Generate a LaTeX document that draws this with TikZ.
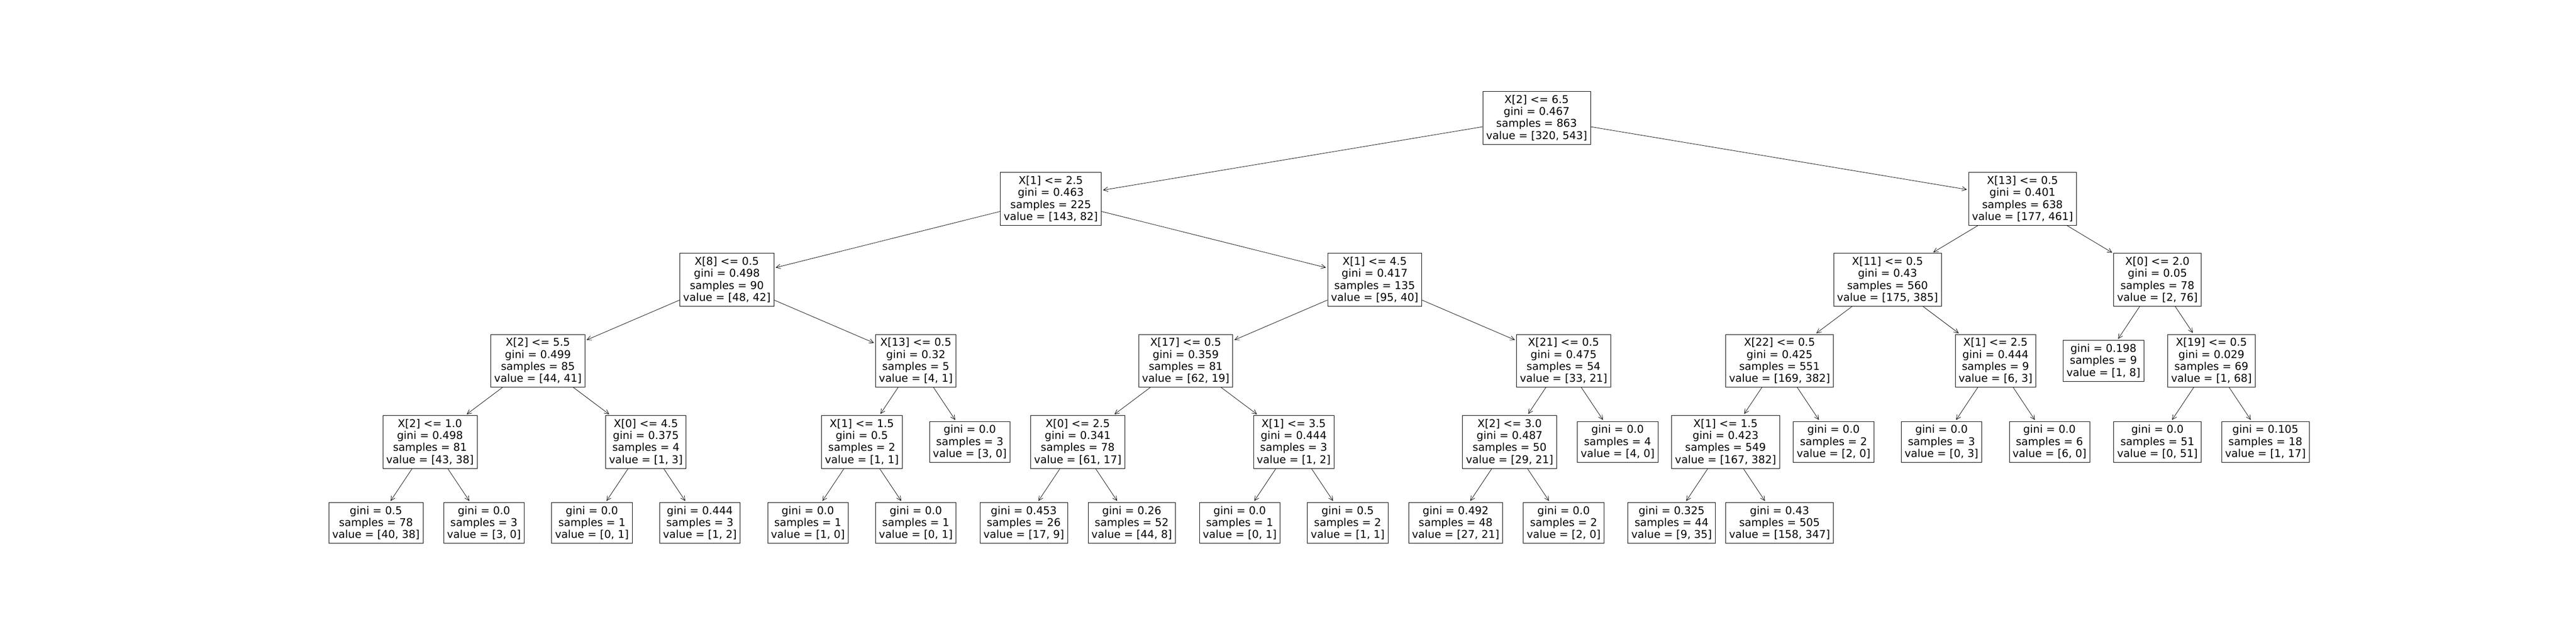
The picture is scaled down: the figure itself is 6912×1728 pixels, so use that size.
\documentclass[tikz,border=0pt]{standalone}
\usepackage{fontspec}
\setmainfont{DejaVu Sans}
\usetikzlibrary{arrows.meta}
\tikzset{
  tn/.style={draw, line width=0.3pt, fill=white, align=center,
    inner xsep=2.55pt, inner ysep=2.8pt,
    font=\fontsize{8.17pt}{9.16pt}\selectfont},
  edge/.style={line width=0.3pt, -{Straight Barb[length=3.4pt,width=3.4pt]}, shorten >=1.2pt}
}
\newcommand\tnode[4]{\node[tn] (#1) at ({1008.8+289.7*#2},{316+217.4*#3}) {#4};}
\begin{document}
\begin{tikzpicture}[x=0.01cm,y=-0.01cm]
\useasboundingbox (0,0) rectangle (6912,1728);
\tnode{n0}{10.75}{0}{X[2] <= 6.5\\gini = 0.467\\samples = 863\\value = [320, 543]}
\tnode{n1}{6.25}{1}{X[1] <= 2.5\\gini = 0.463\\samples = 225\\value = [143, 82]}
\tnode{n2}{15.25}{1}{X[13] <= 0.5\\gini = 0.401\\samples = 638\\value = [177, 461]}
\tnode{n3}{3.25}{2}{X[8] <= 0.5\\gini = 0.498\\samples = 90\\value = [48, 42]}
\tnode{n4}{9.25}{2}{X[1] <= 4.5\\gini = 0.417\\samples = 135\\value = [95, 40]}
\tnode{n5}{14}{2}{X[11] <= 0.5\\gini = 0.43\\samples = 560\\value = [175, 385]}
\tnode{n6}{16.5}{2}{X[0] <= 2.0\\gini = 0.05\\samples = 78\\value = [2, 76]}
\tnode{n7}{1.5}{3}{X[2] <= 5.5\\gini = 0.499\\samples = 85\\value = [44, 41]}
\tnode{n8}{5}{3}{X[13] <= 0.5\\gini = 0.32\\samples = 5\\value = [4, 1]}
\tnode{n9}{7.5}{3}{X[17] <= 0.5\\gini = 0.359\\samples = 81\\value = [62, 19]}
\tnode{n10}{11}{3}{X[21] <= 0.5\\gini = 0.475\\samples = 54\\value = [33, 21]}
\tnode{n11}{13}{3}{X[22] <= 0.5\\gini = 0.425\\samples = 551\\value = [169, 382]}
\tnode{n12}{15}{3}{X[1] <= 2.5\\gini = 0.444\\samples = 9\\value = [6, 3]}
\tnode{n13}{16}{3}{gini = 0.198\\samples = 9\\value = [1, 8]}
\tnode{n14}{17}{3}{X[19] <= 0.5\\gini = 0.029\\samples = 69\\value = [1, 68]}
\tnode{n15}{0.5}{4}{X[2] <= 1.0\\gini = 0.498\\samples = 81\\value = [43, 38]}
\tnode{n16}{2.5}{4}{X[0] <= 4.5\\gini = 0.375\\samples = 4\\value = [1, 3]}
\tnode{n17}{4.5}{4}{X[1] <= 1.5\\gini = 0.5\\samples = 2\\value = [1, 1]}
\tnode{n18}{5.5}{4}{gini = 0.0\\samples = 3\\value = [3, 0]}
\tnode{n19}{6.5}{4}{X[0] <= 2.5\\gini = 0.341\\samples = 78\\value = [61, 17]}
\tnode{n20}{8.5}{4}{X[1] <= 3.5\\gini = 0.444\\samples = 3\\value = [1, 2]}
\tnode{n21}{10.5}{4}{X[2] <= 3.0\\gini = 0.487\\samples = 50\\value = [29, 21]}
\tnode{n22}{11.5}{4}{gini = 0.0\\samples = 4\\value = [4, 0]}
\tnode{n23}{12.5}{4}{X[1] <= 1.5\\gini = 0.423\\samples = 549\\value = [167, 382]}
\tnode{n24}{13.5}{4}{gini = 0.0\\samples = 2\\value = [2, 0]}
\tnode{n25}{14.5}{4}{gini = 0.0\\samples = 3\\value = [0, 3]}
\tnode{n26}{15.5}{4}{gini = 0.0\\samples = 6\\value = [6, 0]}
\tnode{n27}{16.5}{4}{gini = 0.0\\samples = 51\\value = [0, 51]}
\tnode{n28}{17.5}{4}{gini = 0.105\\samples = 18\\value = [1, 17]}
\tnode{n29}{0}{5}{gini = 0.5\\samples = 78\\value = [40, 38]}
\tnode{n30}{1}{5}{gini = 0.0\\samples = 3\\value = [3, 0]}
\tnode{n31}{2}{5}{gini = 0.0\\samples = 1\\value = [0, 1]}
\tnode{n32}{3}{5}{gini = 0.444\\samples = 3\\value = [1, 2]}
\tnode{n33}{4}{5}{gini = 0.0\\samples = 1\\value = [1, 0]}
\tnode{n34}{5}{5}{gini = 0.0\\samples = 1\\value = [0, 1]}
\tnode{n35}{6}{5}{gini = 0.453\\samples = 26\\value = [17, 9]}
\tnode{n36}{7}{5}{gini = 0.26\\samples = 52\\value = [44, 8]}
\tnode{n37}{8}{5}{gini = 0.0\\samples = 1\\value = [0, 1]}
\tnode{n38}{9}{5}{gini = 0.5\\samples = 2\\value = [1, 1]}
\tnode{n39}{10}{5}{gini = 0.492\\samples = 48\\value = [27, 21]}
\tnode{n40}{11}{5}{gini = 0.0\\samples = 2\\value = [2, 0]}
\tnode{n41}{12}{5}{gini = 0.325\\samples = 44\\value = [9, 35]}
\tnode{n42}{13}{5}{gini = 0.43\\samples = 505\\value = [158, 347]}
\foreach \p/\c in {n0/n1,n0/n2,n1/n3,n1/n4,n2/n5,n2/n6,
  n3/n7,n3/n8,n4/n9,n4/n10,n5/n11,n5/n12,n6/n13,n6/n14,
  n7/n15,n7/n16,n8/n17,n8/n18,n9/n19,n9/n20,n10/n21,n10/n22,
  n11/n23,n11/n24,n12/n25,n12/n26,n14/n27,n14/n28,
  n15/n29,n15/n30,n16/n31,n16/n32,n17/n33,n17/n34,
  n19/n35,n19/n36,n20/n37,n20/n38,n21/n39,n21/n40,n23/n41,n23/n42}
  {\draw[edge] (\p) -- (\c);}
\end{tikzpicture}
\end{document}
